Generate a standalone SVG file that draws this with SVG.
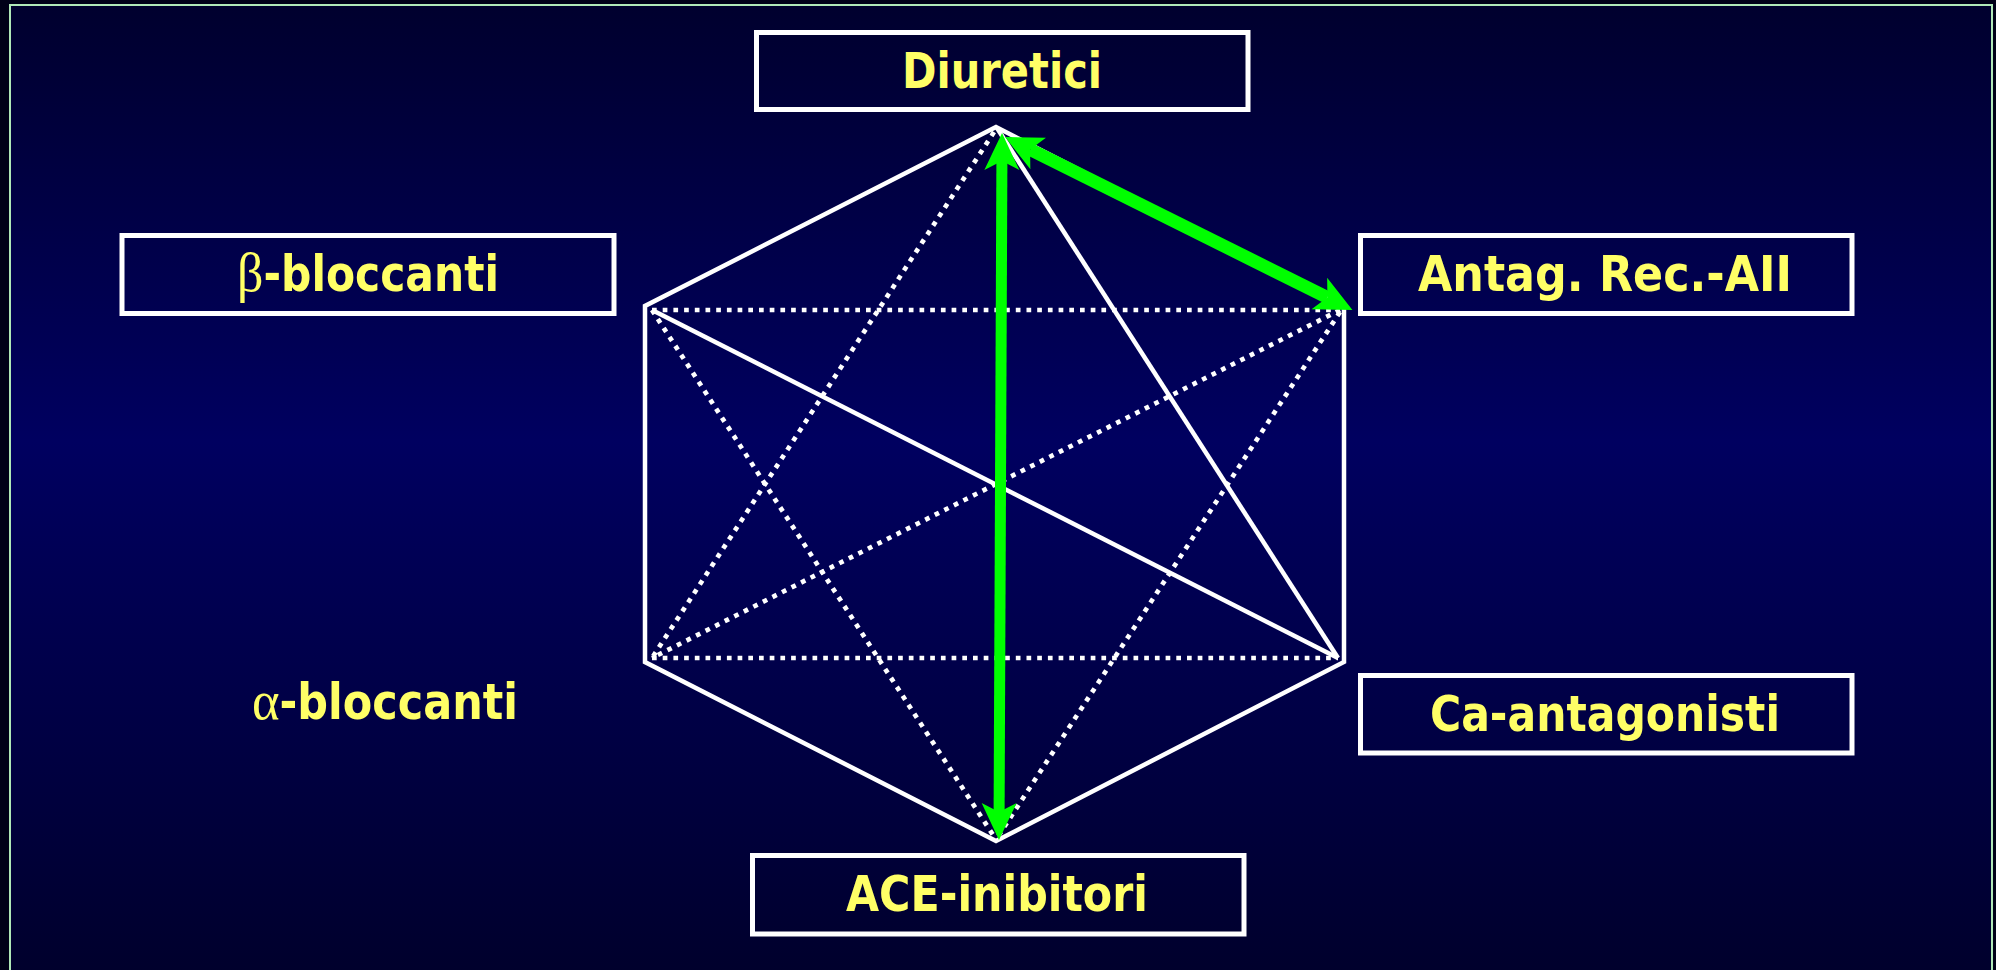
<svg xmlns="http://www.w3.org/2000/svg" width="1996" height="970" viewBox="0 0 1996 970">
  <defs>
    <linearGradient id="bg" x1="0" y1="0" x2="0" y2="1">
      <stop offset="0" stop-color="#00002e"/>
      <stop offset="0.45" stop-color="#000060"/>
      <stop offset="1" stop-color="#00002c"/>
    </linearGradient>
    <marker id="head" markerUnits="userSpaceOnUse" markerWidth="40" markerHeight="40" refX="9" refY="0" orient="auto-start-reverse" overflow="visible">
      <path d="M37,0 L0,-17.5 L9,0 L0,17.5 Z" fill="#00ff00"/>
    </marker>
    <style>
      .box { fill: none; stroke: #ffffff; stroke-width: 5; }
      .lbl { font-family: "DejaVu Sans Condensed", "DejaVu Sans", sans-serif; font-weight: bold; font-size: 49px; fill: #ffff66; }
      .greek { font-family: "Liberation Serif", serif; font-weight: normal; font-size: 54px; }
      .solid { fill: none; stroke: #ffffff; stroke-width: 4.5; stroke-linejoin: miter; }
      .dot { fill: none; stroke: #ffffff; stroke-width: 4.7; stroke-dasharray: 4.7 6; }
      .green { fill: none; stroke: #00ff00; marker-start: url(#head); marker-end: url(#head); }
    </style>
  </defs>

  <rect x="0" y="0" width="1996" height="970" fill="#000018"/>
  <rect x="10" y="5" width="1982" height="970" fill="url(#bg)"/>
  <path d="M10,975 L10,5 L1992,5 L1992,975" fill="none" stroke="#b0e8b8" stroke-width="2"/>

  <g id="connectors">
    <path class="solid" d="M996,127 L645,306 L645,662 L996,841 L1344,662 L1344,306 Z"/>
    <line class="solid" x1="652" y1="310" x2="1338" y2="658"/>
    <line class="solid" x1="997" y1="128" x2="1338" y2="658"/>
    <line class="dot" x1="652" y1="310" x2="1340" y2="310"/>
    <line class="dot" x1="652" y1="658" x2="1338" y2="658"/>
    <line class="dot" x1="994" y1="132" x2="652" y2="658"/>
    <line class="dot" x1="652" y1="310" x2="995" y2="838"/>
    <line class="dot" x1="1340" y1="312" x2="997" y2="838"/>
    <line class="dot" x1="1340" y1="310" x2="652" y2="658"/>
    <line class="green" x1="1001.9" y1="161" x2="999.1" y2="812" stroke-width="11"/>
    <line class="green" x1="1030.1" y1="149.5" x2="1327.4" y2="297.5" stroke-width="13"/>
  </g>

  <g id="diuretici">
    <rect class="box" x="756.5" y="32.5" width="491.5" height="77"/>
    <text class="lbl" x="902" y="88" textLength="200" lengthAdjust="spacingAndGlyphs">Diuretici</text>
  </g>
  <g id="beta-bloccanti">
    <rect class="box" x="122" y="235.5" width="492" height="78"/>
    <text class="lbl" x="237" y="291" textLength="262" lengthAdjust="spacingAndGlyphs"><tspan class="greek">β</tspan>-bloccanti</text>
  </g>
  <g id="antag-rec-aii">
    <rect class="box" x="1360.5" y="235.5" width="491.5" height="78"/>
    <text class="lbl" x="1418" y="291" textLength="374" lengthAdjust="spacingAndGlyphs">Antag. Rec.-AII</text>
  </g>
  <g id="ca-antagonisti">
    <rect class="box" x="1360.5" y="675.5" width="491.5" height="77.5"/>
    <text class="lbl" x="1430" y="731" textLength="350" lengthAdjust="spacingAndGlyphs">Ca-antagonisti</text>
  </g>
  <g id="ace-inibitori">
    <rect class="box" x="752.5" y="855.5" width="491.5" height="78.5"/>
    <text class="lbl" x="846" y="911" textLength="302" lengthAdjust="spacingAndGlyphs">ACE-inibitori</text>
  </g>
  <g id="alpha-bloccanti">
    <text class="lbl" x="252" y="719" textLength="266" lengthAdjust="spacingAndGlyphs"><tspan class="greek">α</tspan>-bloccanti</text>
  </g>
</svg>
